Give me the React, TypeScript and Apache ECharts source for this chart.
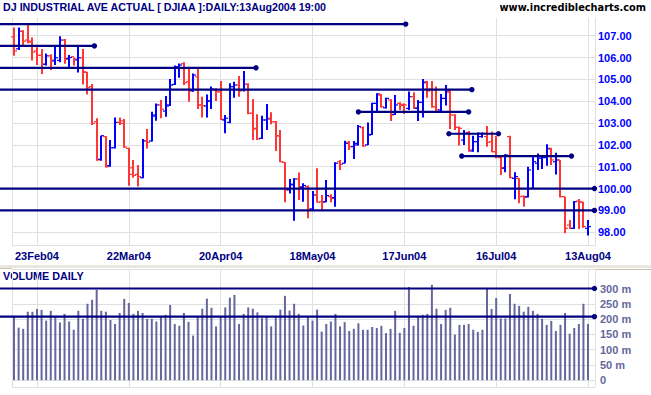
import React, { useEffect, useRef } from 'react';
import * as echarts from 'echarts';

// ---- x axis labels (trading-day index -> label) ----
const tickIdx = [5, 25, 45, 65, 85, 105, 125];
const tickLabels = ['23Feb04', '22Mar04', '20Apr04', '18May04', '17Jun04', '16Jul04', '13Aug04'];
const priceTicks = [98, 99, 100, 101, 102, 103, 104, 105, 106, 107];
const volTicks = [0, 50, 100, 150, 200, 250, 300];

// ---- daily OHLC (index 0 = first bar) ----
const opens = [
  106.95, 106.4, 107.2, 106.8, 106.75, 106.3, 106.1, 105.69, 106.08, 105.84,
  105.87, 106.8, 105.96, 106.04, 105.89, 105.99, 105.32, 104.67, 103.06, 101.34,
  102.38, 101.05, 101.87, 103.03, 103.1, 101.84, 100.95, 100.65, 100.5, 102.18,
  102.18, 103.32, 103.83, 103.55, 103.83, 104.77, 105.54, 105.72, 104.89, 104.48,
  105.12, 103.83, 103.78, 104.01, 104.51, 104.43, 103.14, 103.03, 104.67, 104.74,
  104.51, 104.77, 103.45, 102.76, 102.3, 103.14, 103.22, 103.06, 102.42, 101.2,
  99.94, 100.17, 100.44, 100.06, 100.09, 99.07, 99.71, 99.4, 99.4, 99.63,
  99.59, 101.23, 101.16, 102.12, 101.92, 102.0, 102.79, 102.0, 102.48, 103.9,
  104.28, 103.7, 104.06, 103.4, 103.9, 103.86, 103.67, 104.21, 103.67, 103.95,
  104.89, 104.56, 103.75, 103.6, 104.13, 104.41, 103.37, 102.8, 102.22, 102.57,
  101.72, 102.15, 102.38, 102.38, 102.15, 101.69, 101.42, 100.93, 102.38, 100.47,
  100.47, 99.65, 99.63, 100.01, 101.16, 101.39, 101.42, 101.81, 101.23, 101.31,
  99.63, 98.33, 98.18, 99.43, 99.37, 98.18,
];
const highs = [
  107.38, 107.38, 107.25, 107.56, 106.92, 106.47, 106.39, 106.19, 106.15, 106.54,
  106.98, 106.85, 106.12, 106.0, 106.54, 106.39, 105.35, 104.79, 103.22, 102.42,
  102.41, 102.22, 103.26, 103.26, 103.19, 101.87, 101.31, 101.08, 102.27, 102.73,
  103.52, 103.9, 104.06, 104.24, 105.02, 105.63, 105.73, 105.78, 105.55, 105.27,
  105.55, 104.21, 104.31, 104.67, 104.59, 104.93, 103.37, 104.82, 104.89, 105.15,
  105.38, 104.82, 104.1, 103.4, 103.34, 103.87, 103.49, 103.09, 102.68, 101.2,
  100.44, 100.47, 100.74, 100.24, 100.14, 99.89, 100.93, 99.71, 100.39, 99.74,
  101.2, 101.31, 102.19, 102.18, 102.18, 102.91, 102.84, 103.03, 103.93, 104.36,
  104.33, 104.16, 104.09, 104.28, 103.95, 103.9, 104.44, 104.41, 104.06, 105.02,
  104.93, 104.93, 104.67, 104.33, 104.74, 104.51, 103.4, 102.84, 102.68, 102.64,
  102.42, 102.57, 102.57, 102.87, 102.61, 102.42, 101.46, 101.57, 102.42, 100.75,
  100.47, 99.68, 101.0, 101.49, 101.61, 101.46, 102.03, 101.87, 101.64, 101.31,
  99.63, 98.56, 99.43, 99.52, 99.4, 98.56,
];
const lows = [
  106.08, 106.34, 106.55, 106.65, 105.86, 105.66, 105.25, 105.63, 105.43, 105.66,
  105.78, 105.72, 105.54, 105.63, 105.31, 104.77, 104.31, 102.91, 101.28, 101.28,
  100.97, 101.0, 101.84, 102.91, 101.87, 100.13, 100.5, 100.09, 100.47, 101.84,
  102.15, 103.1, 103.22, 103.29, 103.78, 104.74, 105.08, 104.74, 103.98, 104.43,
  103.64, 103.25, 103.25, 103.64, 104.01, 103.14, 102.53, 102.99, 104.16, 104.21,
  104.44, 103.4, 102.22, 102.22, 102.27, 102.68, 102.94, 101.72, 101.2, 99.37,
  99.78, 98.53, 99.48, 99.4, 98.64, 99.02, 99.37, 99.02, 99.37, 99.37,
  99.17, 100.85, 101.16, 101.77, 101.35, 101.97, 101.92, 101.99, 102.45, 103.52,
  103.7, 103.67, 103.09, 103.37, 103.6, 103.42, 103.6, 103.64, 103.09, 103.25,
  104.16, 103.7, 103.52, 103.49, 103.8, 102.73, 102.68, 101.97, 102.0, 101.69,
  101.69, 101.66, 102.33, 101.92, 101.66, 101.39, 100.62, 100.75, 100.47, 99.51,
  99.33, 99.17, 99.59, 100.01, 100.85, 100.9, 101.05, 101.08, 100.65, 99.59,
  97.95, 98.15, 98.15, 98.15, 98.21, 97.85,
];
const closes = [
  106.3, 107.2, 106.75, 106.7, 106.25, 106.1, 105.7, 106.08, 105.89, 105.99,
  106.8, 105.92, 106.0, 105.93, 105.99, 105.35, 104.62, 102.99, 101.31, 102.42,
  101.0, 101.87, 103.03, 102.99, 101.9, 100.65, 100.6, 100.55, 102.18, 102.12,
  103.37, 103.83, 103.63, 103.78, 104.74, 105.58, 105.66, 104.85, 104.48, 105.2,
  103.83, 103.8, 104.01, 104.56, 104.43, 103.17, 103.22, 104.67, 104.74, 104.47,
  104.77, 103.45, 102.73, 102.27, 103.14, 103.19, 103.06, 102.41, 101.23, 99.94,
  100.2, 100.44, 100.09, 100.14, 99.07, 99.71, 99.37, 99.37, 99.68, 99.55,
  101.16, 101.11, 102.07, 101.92, 102.07, 102.84, 101.95, 102.45, 103.9, 104.33,
  103.75, 104.13, 103.37, 103.83, 103.8, 103.83, 104.21, 103.7, 103.95, 104.85,
  104.47, 103.75, 103.6, 104.13, 104.47, 103.37, 102.8, 102.76, 102.53, 101.77,
  102.15, 102.53, 102.53, 102.12, 101.69, 101.46, 100.96, 101.54, 100.5, 100.55,
  99.63, 99.6, 100.85, 101.23, 101.46, 101.42, 101.84, 101.31, 101.31, 99.63,
  98.18, 98.18, 99.4, 99.4, 98.26, 98.26,
];
// ---- daily volume, millions ----
const volumes = [
  210, 172, 168, 224, 224, 233, 230, 195, 227, 206,
  189, 217, 192, 165, 227, 201, 250, 263, 296, 227,
  224, 197, 184, 220, 266, 253, 217, 227, 220, 201,
  201, 192, 210, 214, 246, 184, 178, 220, 191, 146,
  206, 234, 267, 237, 176, 208, 238, 270, 279, 184,
  217, 238, 234, 222, 203, 210, 176, 206, 231, 276,
  228, 250, 217, 179, 206, 195, 231, 159, 184, 192,
  217, 176, 190, 161, 168, 186, 165, 165, 174, 171,
  178, 154, 168, 227, 155, 171, 305, 178, 207, 214,
  217, 312, 234, 184, 230, 237, 149, 181, 181, 184,
  165, 158, 165, 302, 233, 269, 202, 202, 282, 250,
  243, 224, 240, 227, 217, 201, 181, 194, 161, 181,
  220, 152, 171, 184, 250, 184,
];

// ---- drawn support/resistance lines (bar index from/to, price) ----
const EDGE = -3.05; // left edge of the chart
const levelPrice = [107.53, 106.53, 105.53, 104.53, 103.51, 102.51, 101.49, 100.0, 99.0];
const levelFrom = [EDGE, EDGE, EDGE, EDGE, 75.0, 94.7, 97.5, EDGE, EDGE];
const levelTo = [85.3, 17.5, 52.7, 99.7, 99.0, 105.5, 121.4, 126.4, 126.4];
const volLevelValue = [300, 208];
const volLevelFrom = [EDGE, EDGE];
const volLevelTo = [126.4, 126.4];

const RED = '#ff3636';
const BLUE = '#0000ff';
const NAVY = '#000080';
const GRID = '#e0e0e0';
const VOLC = '#66669e';
const FONT = '"Liberation Sans", Arial, sans-serif';

const X_MIN = -0.44;
const X_MAX = 126.52;
const P_MIN = 97.385;
const P_MAX = 107.81;
const V_MIN = -22.3;
const V_MAX = 362.9;

const levelRender = (params: any, api: any) => {
  const a = api.coord([api.value(0), api.value(2)]);
  const b = api.coord([api.value(1), api.value(2)]);
  const children: any[] = [
    { type: 'line', shape: { x1: a[0], y1: a[1], x2: b[0], y2: b[1] }, style: { stroke: NAVY, lineWidth: 2.2 } },
    { type: 'circle', shape: { cx: b[0], cy: b[1], r: 2.7 }, style: { fill: NAVY } },
  ];
  if (api.value(3)) {
    children.push({ type: 'circle', shape: { cx: a[0], cy: a[1], r: 2.7 }, style: { fill: NAVY } });
  }
  return { type: 'group', children };
};

export default function App() {
  const ref = useRef<HTMLDivElement>(null);
  useEffect(() => {
    if (!ref.current) return;
    const chart = echarts.init(ref.current, undefined, { renderer: 'svg' });
    const ohlc = opens.map((o, i) => [i, o, highs[i], lows[i], closes[i]]);
    const levels = levelFrom.map((f, k) => [f, levelTo[k], levelPrice[k], f > EDGE ? 1 : 0]);
    const volLevels = volLevelFrom.map((f, k) => [f, volLevelTo[k], volLevelValue[k], 0]);
    const xAxisBase = (gridIndex: number, showLabel: boolean) => ({
      type: 'value',
      gridIndex,
      min: X_MIN,
      max: X_MAX,
      axisLine: { show: false },
      axisTick: { show: false, customValues: [X_MIN, ...tickIdx, X_MAX] },
      axisLabel: {
        show: showLabel,
        customValues: tickIdx,
        formatter: (v: number) => {
          const k = tickIdx.indexOf(Math.round(v));
          return k >= 0 ? tickLabels[k] : '';
        },
        color: NAVY,
        fontWeight: 'bold',
        fontSize: 11,
        fontFamily: FONT,
        margin: 5,
      },
      splitLine: { show: true, lineStyle: { color: GRID, width: 1 } },
    });
    chart.setOption({
      animation: false,
      backgroundColor: '#ffffff',
      grid: [
        { left: 12, top: 18, width: 583, height: 227.7, outerBoundsMode: 'none' },
        { left: 12, top: 269.3, width: 583, height: 117.7, outerBoundsMode: 'none' },
      ],
      xAxis: [xAxisBase(0, true), xAxisBase(1, false)],
      yAxis: [
        {
          type: 'value',
          gridIndex: 0,
          position: 'right',
          min: P_MIN,
          max: P_MAX,
          axisLine: { show: false },
          axisTick: { show: false, customValues: [P_MIN, ...priceTicks] },
          axisLabel: {
            customValues: priceTicks,
            formatter: (v: number) => v.toFixed(2),
            color: BLUE,
            fontWeight: 'bold',
            fontSize: 11,
            fontFamily: FONT,
            margin: 3,
          },
          splitLine: { show: true, lineStyle: { color: GRID, width: 1 } },
        },
        {
          type: 'value',
          gridIndex: 1,
          position: 'right',
          min: V_MIN,
          max: V_MAX,
          axisLine: { show: false },
          axisTick: { show: false, customValues: [V_MIN, ...volTicks, V_MAX] },
          axisLabel: {
            customValues: volTicks,
            formatter: (v: number) => (v === 0 ? '0' : v + ' m'),
            color: VOLC,
            fontWeight: 'bold',
            fontSize: 11,
            fontFamily: FONT,
            margin: 5,
          },
          splitLine: { show: true, lineStyle: { color: GRID, width: 1 } },
        },
      ],
      series: [
        {
          type: 'custom',
          name: 'DJIAA',
          xAxisIndex: 0,
          yAxisIndex: 0,
          data: ohlc,
          encode: { x: 0, y: [1, 2, 3, 4] },
          z: 2,
          renderItem: (params: any, api: any) => {
            const i = api.value(0);
            const o = api.value(1);
            const h = api.value(2);
            const l = api.value(3);
            const c = api.value(4);
            const pH = api.coord([i, h]);
            const pL = api.coord([i, l]);
            const pO = api.coord([i, o]);
            const pC = api.coord([i, c]);
            const color = c > o ? BLUE : RED;
            const x = Math.round(pH[0]);
            return {
              type: 'group',
              children: [
                { type: 'line', shape: { x1: x, y1: pH[1], x2: x, y2: pL[1] }, style: { stroke: color, lineWidth: 2 } },
                { type: 'line', shape: { x1: x - 3, y1: pO[1], x2: x, y2: pO[1] }, style: { stroke: color, lineWidth: 1.2 } },
                { type: 'line', shape: { x1: x, y1: pC[1], x2: x + 3, y2: pC[1] }, style: { stroke: color, lineWidth: 1.2 } },
              ],
            };
          },
        },
        {
          type: 'custom',
          name: 'levels',
          xAxisIndex: 0,
          yAxisIndex: 0,
          data: levels,
          encode: { x: [0, 1], y: 2 },
          z: 3,
          clip: false,
          renderItem: levelRender,
        },
        {
          type: 'bar',
          name: 'volume',
          xAxisIndex: 1,
          yAxisIndex: 1,
          data: volumes.map((v, i) => [i, v]),
          barWidth: 2,
          itemStyle: { color: VOLC },
          z: 2,
        },
        {
          type: 'custom',
          name: 'volLevels',
          xAxisIndex: 1,
          yAxisIndex: 1,
          data: volLevels,
          encode: { x: [0, 1], y: 2 },
          z: 3,
          clip: false,
          renderItem: levelRender,
        },
      ],
      graphic: [
        { type: 'rect', silent: true, z: -1, shape: { x: 0, y: 265, width: 651, height: 3 }, style: { fill: '#e8e8e0' } },
        { type: 'line', silent: true, shape: { x1: 595, y1: 269.5, x2: 651, y2: 269.5 }, style: { stroke: '#c8c2ae', lineWidth: 1 } },
        { type: 'line', silent: true, shape: { x1: 0, y1: 268.5, x2: 12, y2: 268.5 }, style: { stroke: '#c8c2ae', lineWidth: 1 } },
        {
          type: 'text', silent: true, x: 3, y: 7,
          style: { text: 'DJ INDUSTRIAL AVE ACTUAL [ DJIAA ]:DAILY:13Aug2004 19:00', fill: NAVY, font: 'bold 10.7px ' + FONT, verticalAlign: 'middle', align: 'left' },
        },
        {
          type: 'text', silent: true, x: 646, y: 7.5,
          style: { text: 'www.incrediblecharts.com', fill: '#000000', font: 'bold 9.8px "DejaVu Sans", Verdana, sans-serif', verticalAlign: 'middle', align: 'right' },
        },
        {
          type: 'text', silent: true, x: 3, y: 276,
          style: { text: 'VOLUME DAILY', fill: NAVY, font: 'bold 10.8px ' + FONT, verticalAlign: 'middle', align: 'left' },
        },
      ],
    });
    return () => chart.dispose();
  }, []);
  return (
    <div
      ref={ref}
      style={{ position: 'absolute', left: 0, top: 0, width: 651, height: 395, background: '#ffffff' }}
    />
  );
}
